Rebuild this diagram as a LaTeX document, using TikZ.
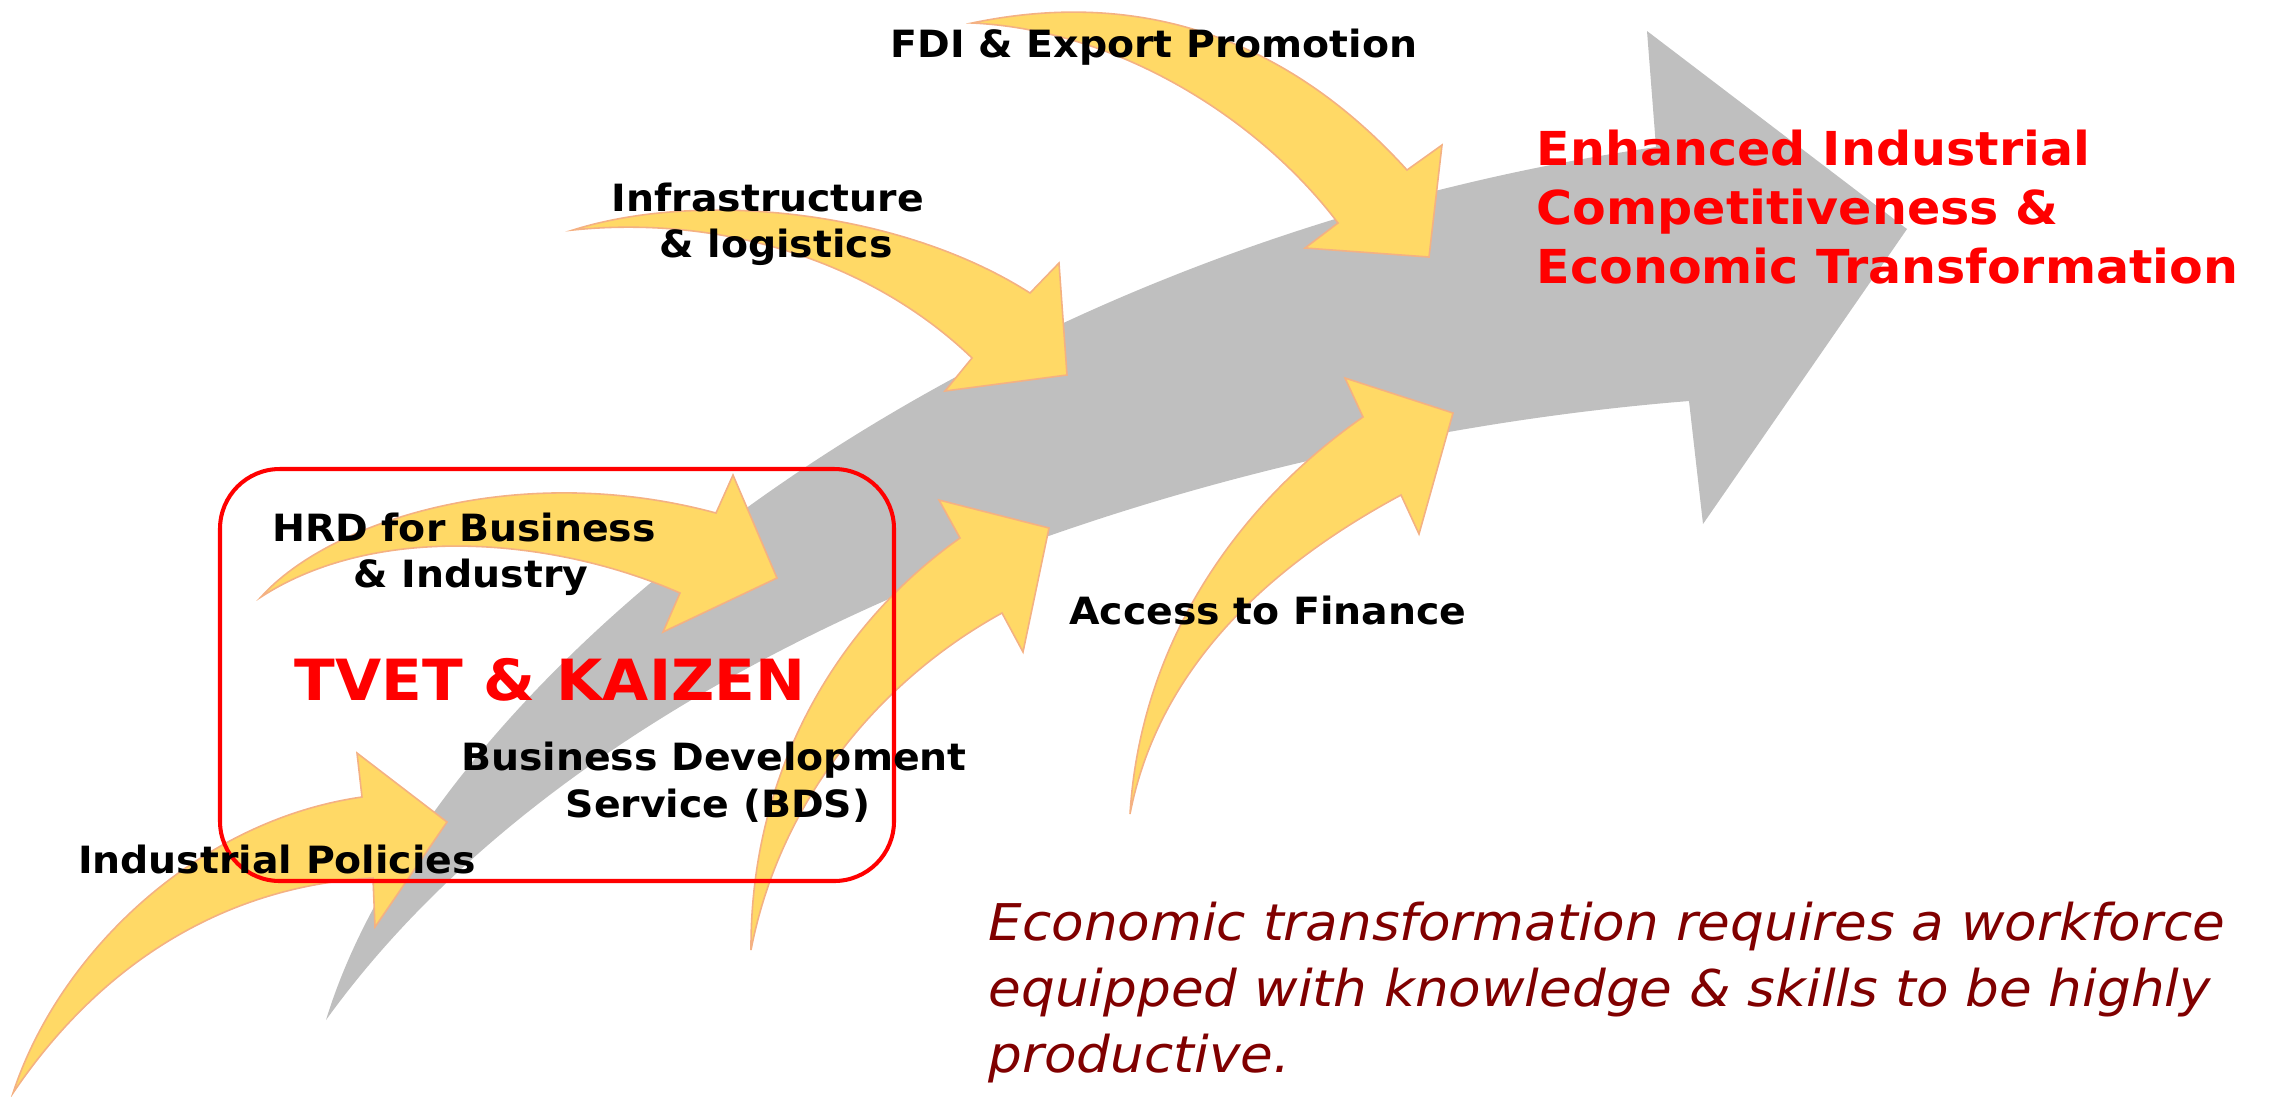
\documentclass[tikz,border=0pt]{standalone}
\usepackage{fontspec}
\newfontfamily\labelfont[FakeStretch=1.05]{DejaVu Sans}
\definecolor{shaftgray}{RGB}{191,191,191}
\definecolor{arrowfill}{RGB}{255,217,102}
\definecolor{arrowedge}{RGB}{244,177,131}
\definecolor{notered}{RGB}{128,0,0}
\definecolor{hotred}{RGB}{255,0,0}
\begin{document}
\begin{tikzpicture}[x=0.01cm,y=-0.01cm,
  feeder/.style={fill=arrowfill,draw=arrowedge,line width=0.45pt,line join=miter},
  lbl/.style={font=\labelfont\bfseries\fontsize{10.67}{12.8}\selectfont,inner sep=0pt,anchor=base},
  keyred/.style={font=\labelfont\bfseries\fontsize{16.15}{19}\selectfont,text=hotred,inner sep=0pt,anchor=base},
  goal/.style={font=\labelfont\bfseries\fontsize{13.3}{16}\selectfont,text=hotred,inner sep=0pt,anchor=base west},
  note/.style={font=\labelfont\itshape\fontsize{14.4}{18.8}\selectfont,text=notered,inner sep=0pt,anchor=base west},
  focus/.style={draw=hotred,line width=1.15pt,rounded corners=17pt}]
\useasboundingbox (0,0) rectangle (2272,1096);

% main grey arrow
\fill[shaftgray] (326,1020) .. controls (430,680) and (950,250) .. (1656,147)
  -- (1647,31) -- (1907,229) -- (1703,524) -- (1689,401)
  .. controls (1200,440) and (600,640) .. (326,1020) -- cycle;

% Industrial Policies
\filldraw[feeder] (13,1093) .. controls (60,950) and (200,820) .. (362,797)
  -- (357,753) -- (447,822) -- (375,927) -- (373,878)
  .. controls (240,885) and (110,950) .. (13,1093) -- cycle;

% HRD for Business & Industry
\filldraw[feeder] (261,597) .. controls (330,520) and (520,460) .. (716,513)
  -- (733,475) -- (777,578) -- (663,632) -- (680,593)
  .. controls (560,540) and (380,520) .. (261,597) -- cycle;

% Business Development Service
\filldraw[feeder] (751,950) .. controls (750,780) and (830,630) .. (960,538)
  -- (939,500) -- (1049,528) -- (1023,652) -- (1002,613)
  .. controls (880,680) and (780,800) .. (751,950) -- cycle;

% Access to Finance
\filldraw[feeder] (1130,814) .. controls (1140,650) and (1230,510) .. (1363,417)
  -- (1345,378) -- (1453,413) -- (1419,534) -- (1401,495)
  .. controls (1280,560) and (1160,660) .. (1130,814) -- cycle;

% Infrastructure & logistics
\filldraw[feeder] (573,230) .. controls (700,190) and (900,210) .. (1030,293)
  -- (1059,263) -- (1067,375) -- (945,391) -- (972,358)
  .. controls (870,260) and (720,215) .. (573,230) -- cycle;

% FDI & Export Promotion
\filldraw[feeder] (972,23) .. controls (1130,-10) and (1280,30) .. (1407,170)
  -- (1442,145) -- (1429,257) -- (1305,248) -- (1338,223)
  .. controls (1260,120) and (1120,30) .. (972,23) -- cycle;

% TVET & KAIZEN frame
\draw[focus] (220,469) rectangle (894,881);

% labels
\node[lbl] (fdi) at (1154,57) {FDI \& Export Promotion};
\node[lbl] (infraA) at (768,211) {Infrastructure};
\node[lbl] (infraB) at (776,257) {\& logistics};
\node[lbl] (hrdA) at (464,541) {HRD for Business};
\node[lbl] (hrdB) at (471,587) {\& Industry};
\node[keyred] (tvet) at (550,700) {TVET \& KAIZEN};
\node[lbl] (bdsA) at (714,770) {Business Development};
\node[lbl] (bdsB) at (718,817) {Service (BDS)};
\node[lbl] (ind) at (277,873) {Industrial Policies};
\node[lbl] (fin) at (1268,624) {Access to Finance};

\node[goal] (goalA) at (1536,165) {Enhanced Industrial};
\node[goal] (goalB) at (1536,224) {Competitiveness \&};
\node[goal] (goalC) at (1536,283) {Economic Transformation};

\node[note] (noteA) at (988,940) {Economic transformation requires a workforce};
\node[note] (noteB) at (988,1006) {equipped with knowledge \& skills to be highly};
\node[note] (noteC) at (988,1072) {productive.};
\end{tikzpicture}
\end{document}
